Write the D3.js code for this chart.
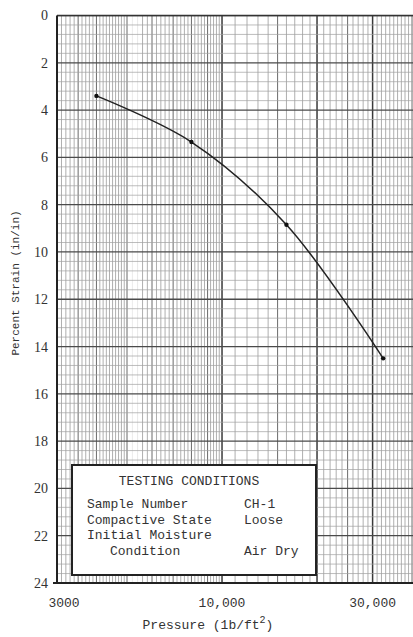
<!DOCTYPE html>
<html>
<head>
<meta charset="utf-8">
<script src="https://cdn.jsdelivr.net/npm/d3@7"></script>
<style>
  html, body { margin: 0; padding: 0; background: #fff; }
  svg { display: block; }
</style>
</head>
<body>
<svg id="chart" width="413" height="637"></svg>
<script>
// Consolidation test: pressure (lb/ft^2) vs percent strain
const pressure = [4000, 8000, 16000, 32400];
const strain = [3.4, 5.35, 8.85, 14.5];

const strainTicks = [0, 2, 4, 6, 8, 10, 12, 14, 16, 18, 20, 22, 24];
const pressureTicks = [3000, 10000, 30000];
const pressureTickLabels = ["3000", "10,000", "30,000"];

const conditionLabels = ["Sample Number", "Compactive State", "Initial Moisture", "Condition"];
const conditionValues = ["CH-1", "Loose", "", "Air Dry"];

const W = 413, H = 637;
const plotLeft = 57, plotTop = 15.5, plotBottom = 583, plotRight = W;

const svg = d3.select("#chart");

// semi-log paper: one decade spans ~315.6 px
const x = d3.scaleLog().domain([3000, 30000]).range([plotLeft, 372.6]);
const y = d3.scaleLinear().domain([0, 24]).range([plotTop, plotBottom]);

const mono = "'Liberation Mono', 'Courier New', monospace";
const serif = "'Liberation Serif', 'Times New Roman', serif";

svg.append("defs").append("clipPath").attr("id", "plot-clip")
  .append("rect")
  .attr("x", plotLeft).attr("y", plotTop)
  .attr("width", plotRight - plotLeft).attr("height", plotBottom - plotTop);

const grid = svg.append("g").attr("clip-path", "url(#plot-clip)");

// ---- vertical (log) rulings ----
const fine = [];
for (let v = 3100; v < 5000; v += 100) fine.push(v);
for (let v = 5200; v < 10000; v += 200) fine.push(v);
for (let v = 11000; v < 42000; v += 1000) fine.push(v);
const medium = [3500, 4000, 5000, 6000, 7000, 8000, 9000, 15000, 25000, 40000];
const heavy = [10000, 20000, 30000];

function vlines(vals, stroke, width) {
  grid.selectAll(null).data(vals).enter().append("line")
    .attr("x1", d => x(d)).attr("x2", d => x(d))
    .attr("y1", plotTop).attr("y2", plotBottom)
    .attr("stroke", stroke).attr("stroke-width", width);
}
vlines(fine.filter(v => !medium.includes(v) && !heavy.includes(v) && (v < 5100 || v > 5400)), "#9a9a9a", 0.8);
vlines(fine.filter(v => v >= 5100 && v <= 5400), "#dcdcdc", 0.6);
vlines(medium, "#6a6a6a", 1.0);
vlines(heavy, "#3a3a3a", 1.5);

// ---- horizontal (linear) rulings ----
const hMinor = [];
for (let i = 0; i <= 60; i++) if (i % 5 !== 0) hMinor.push(i * 0.4);
grid.selectAll(null).data(hMinor).enter().append("line")
  .attr("x1", plotLeft).attr("x2", plotRight)
  .attr("y1", d => y(d)).attr("y2", d => y(d))
  .attr("stroke", "#a0a0a0").attr("stroke-width", 0.7);
grid.selectAll(null).data(strainTicks).enter().append("line")
  .attr("x1", plotLeft).attr("x2", plotRight)
  .attr("y1", d => y(d)).attr("y2", d => y(d))
  .attr("stroke", "#4a4a4a").attr("stroke-width", 1.3);

// ---- frame ----
svg.append("line").attr("x1", plotLeft).attr("x2", plotRight)
  .attr("y1", plotTop).attr("y2", plotTop).attr("stroke", "#333").attr("stroke-width", 1.6);
svg.append("line").attr("x1", plotLeft - 4).attr("x2", plotRight)
  .attr("y1", plotBottom).attr("y2", plotBottom).attr("stroke", "#222").attr("stroke-width", 2.2);
svg.append("line").attr("x1", plotLeft).attr("x2", plotLeft)
  .attr("y1", plotTop).attr("y2", plotBottom).attr("stroke", "#222").attr("stroke-width", 2);

// ---- axes labels ----
const yAxis = d3.axisLeft(y).tickValues(strainTicks).tickSize(0).tickPadding(9);
const yg = svg.append("g").attr("transform", `translate(${plotLeft},0)`).call(yAxis);
yg.select(".domain").remove();
yg.selectAll("text").attr("font-family", serif).attr("font-size", 14).attr("fill", "#333");

const xg = svg.append("g");
xg.selectAll("text").data(pressureTicks).enter().append("text")
  .attr("x", (d, i) => x(d) + (i === 0 ? 7 : 0))
  .attr("y", 607)
  .attr("text-anchor", "middle")
  .attr("font-family", mono).attr("font-size", 13).attr("fill", "#333")
  .text((d, i) => pressureTickLabels[i]);

const xt = svg.append("text")
  .attr("x", 208).attr("y", 629)
  .attr("text-anchor", "middle")
  .attr("font-family", mono).attr("font-size", 13).attr("fill", "#333");
xt.append("tspan").text("Pressure (1b/ft");
xt.append("tspan").attr("dy", -6).attr("font-size", 10).text("2");
xt.append("tspan").attr("dy", 6).text(")");

svg.append("text")
  .attr("transform", "translate(19,283) rotate(-90)")
  .attr("text-anchor", "middle")
  .attr("font-family", mono).attr("font-size", 11).attr("fill", "#333")
  .text("Percent Strain (in/in)");

// ---- consolidation curve ----
const pts = pressure.map((p, i) => [p, strain[i]]);
const line = d3.line()
  .x(d => x(d[0])).y(d => y(d[1]))
  .curve(d3.curveCatmullRom.alpha(0.5));
svg.append("path").datum(pts)
  .attr("d", line)
  .attr("fill", "none").attr("stroke", "#222").attr("stroke-width", 1.5);
svg.selectAll(null).data(pts).enter().append("circle")
  .attr("cx", d => x(d[0])).attr("cy", d => y(d[1]))
  .attr("r", 2.2).attr("fill", "#111");

// ---- testing conditions box ----
const box = svg.append("g");
box.append("rect")
  .attr("x", 72).attr("y", 465).attr("width", 244).attr("height", 110)
  .attr("fill", "#fff").attr("stroke", "#222").attr("stroke-width", 2);
box.append("text")
  .attr("x", 189).attr("y", 485).attr("text-anchor", "middle")
  .attr("font-family", mono).attr("font-size", 13).attr("fill", "#333")
  .text("TESTING CONDITIONS");
box.selectAll(null).data(conditionLabels).enter().append("text")
  .attr("x", (d, i) => i === 3 ? 110 : 87)
  .attr("y", (d, i) => 508 + i * 15.5)
  .attr("font-family", mono).attr("font-size", 13).attr("fill", "#333")
  .text(d => d);
box.selectAll(null).data(conditionValues).enter().append("text")
  .attr("x", 244)
  .attr("y", (d, i) => 508 + i * 15.5)
  .attr("font-family", mono).attr("font-size", 13).attr("fill", "#333")
  .text(d => d);
</script>
</body>
</html>
